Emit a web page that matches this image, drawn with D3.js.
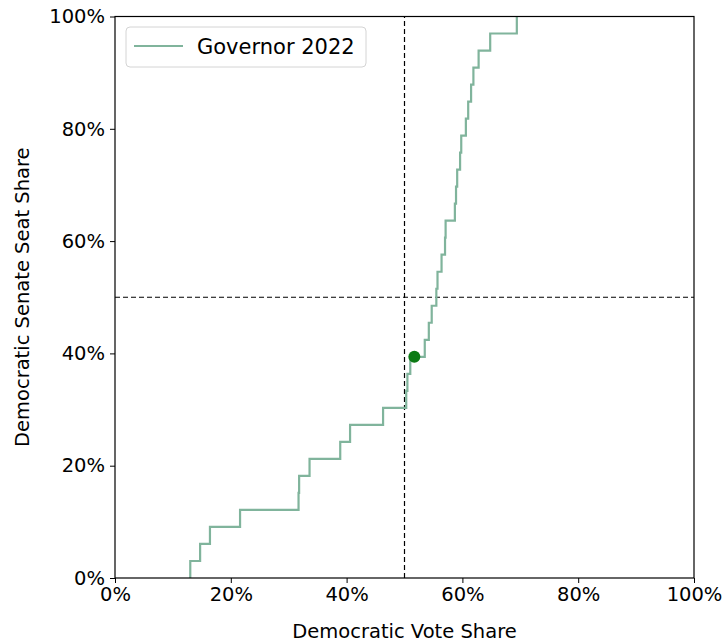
<!DOCTYPE html>
<html>
<head>
<meta charset="utf-8">
<script src="https://cdn.jsdelivr.net/npm/d3@7"></script>
<style>
  html, body { margin: 0; padding: 0; background: #fff; }
  svg text { font-family: "DejaVu Sans", sans-serif; fill: #000; }
</style>
</head>
<body>
<svg id="chart" width="724" height="643"></svg>
<script>
// Seats-votes curve under uniform swing: 33 senate seats.
const totalSeats = 33;
// Statewide Democratic vote share (%) at which the k-th seat flips (k = 1..33)
const seatThresholds = [
  13.0, 14.7, 16.4, 21.6, 31.7, 31.8, 33.6, 38.9, 40.6, 46.3,
  50.3, 50.5, 51.0, 53.5, 54.2, 54.7, 55.5, 55.7, 56.4, 57.0,
  57.1, 58.7, 58.9, 59.1, 59.6, 59.8, 60.6, 61.0, 61.5, 61.9,
  62.8, 64.8, 69.4
];
// Actual result: vote share and seat share
const actualVote = [51.7];
const actualSeats = [13];
const seriesName = ["Governor 2022"];
const tickValues = [0, 20, 40, 60, 80, 100];

const svg = d3.select("#chart");
const margin = { left: 115, right: 30, top: 16.5, bottom: 65 };
const W = 724, H = 643;

const x = d3.scaleLinear().domain([0, 100]).range([margin.left, W - margin.right]);
const y = d3.scaleLinear().domain([0, 100]).range([H - margin.bottom, margin.top]);

// Build step points: start at 0 seats, then rise at each threshold
const pts = [[seatThresholds[0], 0]];
seatThresholds.forEach((t, i) => pts.push([t, (i + 1) / totalSeats * 100]));

const line = d3.line()
  .x(d => x(d[0]))
  .y(d => y(d[1]))
  .curve(d3.curveStepAfter);

const plot = svg.append("g");

// 50% reference lines
plot.append("line")
  .attr("x1", x(50)).attr("x2", x(50))
  .attr("y1", y(0)).attr("y2", y(100))
  .attr("stroke", "#000").attr("stroke-width", 1.2)
  .attr("stroke-dasharray", "5,3");
plot.append("line")
  .attr("x1", x(0)).attr("x2", x(100))
  .attr("y1", y(50)).attr("y2", y(50))
  .attr("stroke", "#000").attr("stroke-width", 1.2)
  .attr("stroke-dasharray", "5,3");

// Seats-votes curve
plot.append("path")
  .datum(pts)
  .attr("fill", "none")
  .attr("stroke", "#80b49c")
  .attr("stroke-width", 2.2)
  .attr("d", line);

// Actual outcome marker
plot.selectAll("circle.actual")
  .data(actualVote.map((v, i) => [v, actualSeats[i] / totalSeats * 100]))
  .enter().append("circle")
  .attr("class", "actual")
  .attr("cx", d => x(d[0]))
  .attr("cy", d => y(d[1]))
  .attr("r", 6)
  .attr("fill", "#0b7a14");

// Axes
const fmt = d => d + "%";
const xAxis = svg.append("g")
  .attr("transform", `translate(0,${y(0)})`)
  .call(d3.axisBottom(x).tickValues(tickValues).tickFormat(fmt).tickSize(5).tickPadding(4));
const yAxis = svg.append("g")
  .attr("transform", `translate(${x(0)},0)`)
  .call(d3.axisLeft(y).tickValues(tickValues).tickFormat(fmt).tickSize(5).tickPadding(5));
[xAxis, yAxis].forEach(g => {
  g.select(".domain").remove();
  g.selectAll(".tick line").attr("stroke", "#000").attr("stroke-width", 1);
  g.selectAll(".tick text").style("font-size", "19.5px").attr("fill", "#000");
});

// Frame
svg.append("rect")
  .attr("x", x(0)).attr("y", y(100))
  .attr("width", x(100) - x(0)).attr("height", y(0) - y(100))
  .attr("fill", "none").attr("stroke", "#000").attr("stroke-width", 1.2);

// Axis titles
svg.append("text")
  .attr("x", (x(0) + x(100)) / 2).attr("y", 638)
  .attr("text-anchor", "middle")
  .style("font-size", "19.5px")
  .text("Democratic Vote Share");
svg.append("text")
  .attr("transform", `translate(29,${(y(0) + y(100)) / 2}) rotate(-90)`)
  .attr("text-anchor", "middle")
  .style("font-size", "19.5px")
  .text("Democratic Senate Seat Share");

// Legend
const leg = svg.append("g").attr("transform", "translate(126,27)");
leg.append("rect")
  .attr("width", 240).attr("height", 40).attr("rx", 4)
  .attr("fill", "#fff").attr("fill-opacity", 0.8)
  .attr("stroke", "#d4d4d4").attr("stroke-width", 1);
leg.append("line")
  .attr("x1", 8).attr("x2", 57).attr("y1", 19).attr("y2", 19)
  .attr("stroke", "#80b49c").attr("stroke-width", 2.2);
leg.append("text")
  .attr("x", 71).attr("y", 27)
  .style("font-size", "21px")
  .text(seriesName[0]);
</script>
</body>
</html>
